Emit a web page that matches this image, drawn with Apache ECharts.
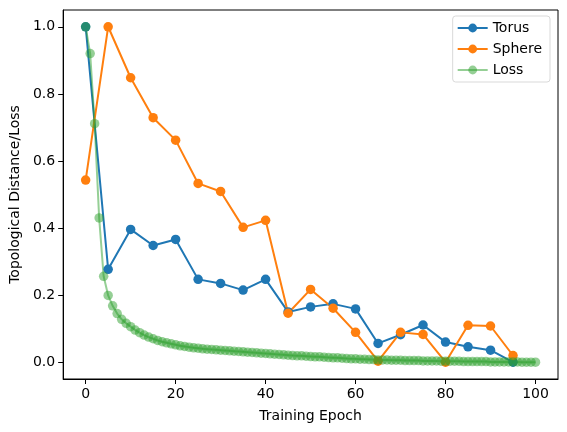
<!DOCTYPE html>
<html>
<head>
<meta charset="utf-8">
<script src="https://cdn.jsdelivr.net/npm/echarts@6/dist/echarts.min.js"></script>
<style>
html,body{margin:0;padding:0;background:#fff;}
#chart{width:567px;height:432px;}
</style>
</head>
<body>
<div id="chart"></div>
<script>
const sampleEpochs = [0,5,10,15,20,25,30,35,40,45,50,55,60,65,70,75,80,85,90,95];
const torus = [1.0,0.277,0.396,0.348,0.366,0.247,0.235,0.215,0.247,0.150,0.165,0.174,0.159,0.056,0.082,0.111,0.060,0.046,0.036,0.0];
const sphere = [0.543,1.0,0.848,0.729,0.662,0.533,0.509,0.402,0.423,0.146,0.217,0.161,0.089,0.003,0.089,0.083,0.0,0.110,0.108,0.020];
const lossEpochs = Array.from({length:101},(_,i)=>i);
const loss = [1.0,0.92,0.711,0.43,0.256,0.199,0.168,0.145,0.128,0.116,
0.106,0.096,0.088,0.081,0.075,0.070,0.065,0.061,0.058,0.055,
0.052,0.049,0.047,0.045,0.043,0.042,0.040,0.039,0.038,0.037,
0.036,0.035,0.034,0.033,0.032,0.031,0.030,0.029,0.028,0.027,
0.026,0.025,0.024,0.023,0.022,0.021,0.020,0.019,0.019,0.018,
0.017,0.016,0.016,0.015,0.014,0.013,0.013,0.012,0.011,0.010,
0.010,0.009,0.009,0.008,0.008,0.007,0.007,0.007,0.006,0.006,
0.006,0.005,0.005,0.005,0.005,0.004,0.004,0.004,0.004,0.003,
0.003,0.003,0.003,0.003,0.002,0.002,0.002,0.002,0.002,0.002,
0.001,0.001,0.001,0.001,0.001,0.001,0.001,0.0,0.0,0.0,0.0];
const xTicks = [0,20,40,60,80,100];
const yTicks = [0,0.2,0.4,0.6,0.8,1.0];
const seriesNames = ['Torus','Sphere','Loss'];
const colors = ['#1f77b4','#ff7f0e','#2ca02c'];

const font = 'DejaVu Sans';
const chart = echarts.init(document.getElementById('chart'), null, {renderer:'canvas'});
function pairs(xs, ys){ return xs.map((x,i)=>[x, ys[i]]); }
function mk(name, data, color, op){
  return {
    name: name, type:'line', data: data,
    symbol:'circle', symbolSize: 9.5, showSymbol: true,
    itemStyle:{color: color, opacity: op},
    lineStyle:{color: color, width: 2, opacity: op},
    emphasis:{disabled:true}
  };
}
chart.setOption({
  animation:false,
  backgroundColor:'#fff',
  textStyle:{fontFamily:font},
  grid:{left:62, right:9, top:10, bottom:53, containLabel:false, show:true, borderColor:'#000', borderWidth:1, backgroundColor:'transparent'},
  legend:{
    data: seriesNames,
    orient:'vertical', right:17, top:16,
    itemWidth:30, itemHeight:11, itemGap:7,
    padding:[5,8,5,4],
    borderColor:'#d9d9d9', borderWidth:1, borderRadius:3,
    backgroundColor:'#fff',
    textStyle:{fontFamily:font, fontSize:14, color:'#000'}
  },
  xAxis:{
    type:'value', min:-5, max:105,
    name:'Training Epoch', nameLocation:'middle', nameGap:30,
    nameTextStyle:{fontFamily:font, fontSize:14, color:'#000'},
    axisLine:{show:true, onZero:false, lineStyle:{color:'#000', width:1}},
    axisTick:{show:true, inside:false, length:5, lineStyle:{color:'#000'}, customValues:xTicks},
    axisLabel:{fontFamily:font, fontSize:14, color:'#000', margin:8, customValues:xTicks},
    splitLine:{show:false}
  },
  yAxis:{
    type:'value', min:-0.05, max:1.05,
    name:'Topological Distance/Loss', nameLocation:'middle', nameGap:41,
    nameTextStyle:{fontFamily:font, fontSize:14, color:'#000'},
    axisLine:{show:true, onZero:false, lineStyle:{color:'#000', width:1}},
    axisTick:{show:true, inside:false, length:5, lineStyle:{color:'#000'}, customValues:yTicks},
    axisLabel:{fontFamily:font, fontSize:14, color:'#000', margin:8, customValues:yTicks, formatter:v=>v.toFixed(1)},
    splitLine:{show:false}
  },
  series:[
    mk(seriesNames[0], pairs(sampleEpochs, torus), colors[0], 1),
    mk(seriesNames[1], pairs(sampleEpochs, sphere), colors[1], 1),
    mk(seriesNames[2], pairs(lossEpochs, loss), colors[2], 0.5)
  ]
});
</script>
</body>
</html>
